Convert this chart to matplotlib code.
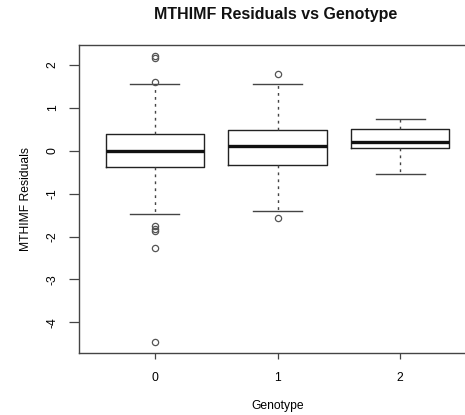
import matplotlib
matplotlib.use("Agg")
import matplotlib.pyplot as plt

plt.rcParams['font.family'] = ['Liberation Sans', 'DejaVu Sans']

genotypes = ["0", "1", "2"]
q1 = [-0.39, -0.33, 0.055]
medians = [0.00, 0.10, 0.20]
q3 = [0.38, 0.49, 0.51]
whisker_low = [-1.48, -1.41, -0.55]
whisker_high = [1.55, 1.55, 0.73]
outliers = [
    [2.21, 2.16, 1.60, -1.76, -1.82, -1.87, -2.27, -4.45],
    [1.79, -1.57],
    [],
]

stats = []
for i, g in enumerate(genotypes):
    stats.append(dict(label=g, q1=q1[i], med=medians[i], q3=q3[i],
                      whislo=whisker_low[i], whishi=whisker_high[i],
                      fliers=outliers[i]))

fig = plt.figure(figsize=(4.65, 4.15), dpi=100)
ax = fig.add_axes([79/465, (415-353)/415, (476-79)/465, (353-45)/415])

ax.bxp(stats, positions=[1, 2, 3], widths=0.8,
       boxprops=dict(color='#222222', linewidth=1.0),
       whiskerprops=dict(color='#444444', linewidth=1.0, linestyle=(0, (2, 3))),
       capprops=dict(color='#444444', linewidth=1.0),
       medianprops=dict(color='#111111', linewidth=2.4),
       flierprops=dict(marker='o', markerfacecolor='none', markeredgecolor='#555555',
                       markersize=4.5, markeredgewidth=0.9, linestyle='none'),
       capwidths=0.4)

ax.set_xlim(0.38, 3.62)
ax.set_ylim(-4.716, 2.466)
ax.set_xticks([1, 2, 3])
ax.set_xticklabels(genotypes)
ax.set_yticks([-4, -3, -2, -1, 0, 1, 2])
ax.set_yticklabels(["-4", "-3", "-2", "-1", "0", "1", "2"], rotation=90, va='center')

for s in ax.spines.values():
    s.set_color('#444444')
    s.set_linewidth(1.0)

ax.tick_params(axis='y', length=7, width=0.9, color='#444444', labelsize=8.7, pad=7.5)
ax.tick_params(axis='x', length=4, width=0.9, color='#444444', labelsize=8.7, pad=10)

ax.set_xlabel("Genotype", fontsize=8.7, labelpad=11)
ax.set_ylabel("MTHIMF Residuals", fontsize=8.7, labelpad=10.5)

fig.text(276/465, 1 - 15/415, "MTHIMF Residuals vs Genotype", ha='center', va='center',
         fontsize=11.5, fontweight='bold', color='#111111')

fig.savefig("out.png", dpi=100)
